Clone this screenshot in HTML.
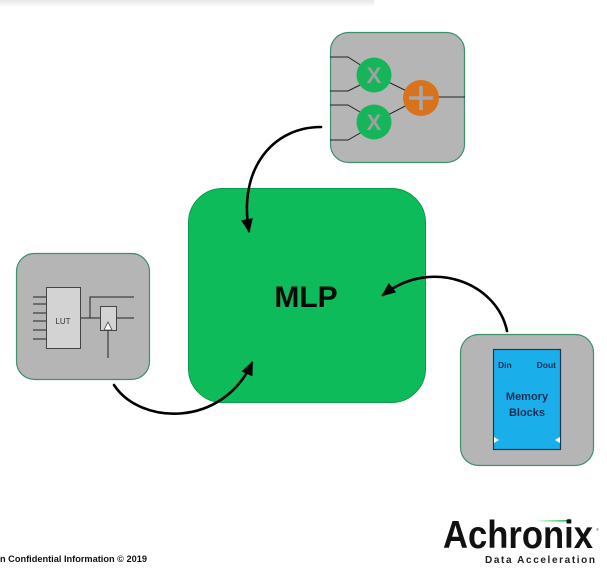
<!DOCTYPE html>
<html>
<head>
<meta charset="utf-8">
<style>
html,body{margin:0;padding:0;background:#fff;}
svg{display:block;}
text{font-family:"Liberation Sans",sans-serif;}
</style>
</head>
<body>
<svg width="607" height="571" viewBox="0 0 607 571" xmlns="http://www.w3.org/2000/svg">
<defs>
  <linearGradient id="topband" x1="0" y1="0" x2="0" y2="1">
    <stop offset="0" stop-color="#e6e6e6"/>
    <stop offset="1" stop-color="#ffffff"/>
  </linearGradient>
  <linearGradient id="swoosh" x1="0" y1="0" x2="1" y2="0">
    <stop offset="0" stop-color="#2db34a" stop-opacity="0"/>
    <stop offset="1" stop-color="#2db34a" stop-opacity="1"/>
  </linearGradient>
  <marker id="ah" markerUnits="userSpaceOnUse" markerWidth="14" markerHeight="12" viewBox="0 0 14 12" refX="12" refY="6" orient="auto">
    <path d="M0,0 L14,6 L0,12 z" fill="#000"/>
  </marker>
</defs>

<!-- top shadow band -->
<rect x="0" y="0" width="374" height="7" fill="url(#topband)"/>

<!-- MLP box -->
<rect x="188.5" y="188.5" width="237" height="214" rx="34" ry="34" fill="#0ebb5b" stroke="#0a9a4a" stroke-width="1"/>
<text x="306" y="307" font-size="30" font-weight="bold" text-anchor="middle" fill="#0a0a0a">MLP</text>

<!-- Multiplier box -->
<rect x="330.5" y="32.5" width="134" height="130" rx="18" ry="18" fill="#b5b5b5" stroke="#3f8f6c" stroke-width="1.2"/>
<g stroke="#222" stroke-width="1" fill="none">
  <path d="M330,57 L348,57 L362,66"/>
  <path d="M330,91 L348,91 L360,85"/>
  <path d="M330,105 L348,105 L360,112"/>
  <path d="M330,140 L348,140 L362,132"/>
  <path d="M374,75 L421,98"/>
  <path d="M374,122 L421,98"/>
  <path d="M421,97 L465,97"/>
</g>
<circle cx="374" cy="75" r="17.5" fill="#17b55b"/>
<circle cx="374" cy="122" r="17.5" fill="#17b55b"/>
<circle cx="421" cy="98" r="18" fill="#d8721c"/>
<text x="374" y="83" font-size="22" font-weight="bold" text-anchor="middle" fill="#a0a0a0">X</text>
<text x="374" y="130" font-size="22" font-weight="bold" text-anchor="middle" fill="#a0a0a0">X</text>
<g stroke="#a8a8a8" stroke-width="3.5">
  <line x1="409" y1="98" x2="433" y2="98"/>
  <line x1="421" y1="86" x2="421" y2="110"/>
</g>

<!-- LUT box -->
<rect x="16.5" y="253.5" width="133" height="126" rx="18" ry="18" fill="#b5b5b5" stroke="#3f8f6c" stroke-width="1.2"/>
<g stroke="#222" stroke-width="1" fill="none">
  <line x1="33" y1="297" x2="46" y2="297"/>
  <line x1="33" y1="304" x2="46" y2="304"/>
  <line x1="33" y1="313" x2="46" y2="313"/>
  <line x1="33" y1="321" x2="46" y2="321"/>
  <line x1="33" y1="330" x2="46" y2="330"/>
  <line x1="33" y1="339" x2="46" y2="339"/>
  <path d="M80,318 L100,318"/>
  <path d="M90,318 L90,297 L134,297"/>
  <path d="M117,318 L134,318"/>
  <path d="M108,330 L108,358"/>
</g>
<rect x="46.5" y="287.5" width="34" height="61" fill="#d3d3d3" stroke="#444" stroke-width="1"/>
<text x="63" y="324" font-size="8" text-anchor="middle" fill="#333">LUT</text>
<rect x="100.5" y="306.5" width="16" height="24" fill="#d3d3d3" stroke="#444" stroke-width="1"/>
<path d="M104,330 L108,322 L112,330 z" fill="#fff" stroke="#444" stroke-width="0.8"/>

<!-- Memory box -->
<rect x="460.5" y="334.5" width="133" height="131" rx="18" ry="18" fill="#b5b5b5" stroke="#3f8f6c" stroke-width="1.2"/>
<rect x="493.5" y="349.5" width="67" height="100" fill="#1aaeea" stroke="#1d3558" stroke-width="1.2"/>
<text x="498" y="368" font-size="8.5" font-weight="bold" fill="#1d2e55">Din</text>
<text x="556" y="368" font-size="8.5" font-weight="bold" text-anchor="end" fill="#1d2e55">Dout</text>
<text x="527" y="400" font-size="11" font-weight="bold" text-anchor="middle" fill="#1d2e55">Memory</text>
<text x="527" y="416" font-size="11" font-weight="bold" text-anchor="middle" fill="#1d2e55">Blocks</text>
<path d="M494,437 L499,440 L494,443 z" fill="#fff"/>
<path d="M560,437 L555,440 L560,443 z" fill="#fff"/>

<!-- arrows -->
<g stroke="#000" stroke-width="2.6" fill="none" stroke-linecap="round">
  <path d="M321,127 C 272,127 238,170 249,231" marker-end="url(#ah)"/>
  <path d="M507,331 C 497,283 432,257 383,295" marker-end="url(#ah)"/>
  <path d="M114,385 C 140,425 222,428 252,363" marker-end="url(#ah)"/>
</g>

<!-- footer -->
<text x="0" y="562" font-size="9" font-weight="bold" fill="#111" textLength="147" lengthAdjust="spacingAndGlyphs">n Confidential Information © 2019</text>

<!-- logo -->
<rect x="535" y="520" width="33" height="1.6" fill="url(#swoosh)"/>
<circle cx="569" cy="521" r="2.2" fill="#2db34a"/>
<text x="443" y="548" font-size="39" font-weight="bold" fill="#111" textLength="150" lengthAdjust="spacingAndGlyphs">Achronix</text>
<text x="596" y="531" font-size="4" fill="#555">®</text>
<text x="485" y="563" font-size="10" font-weight="bold" fill="#222" textLength="110" lengthAdjust="spacing">Data Acceleration</text>
</svg>
</body>
</html>
